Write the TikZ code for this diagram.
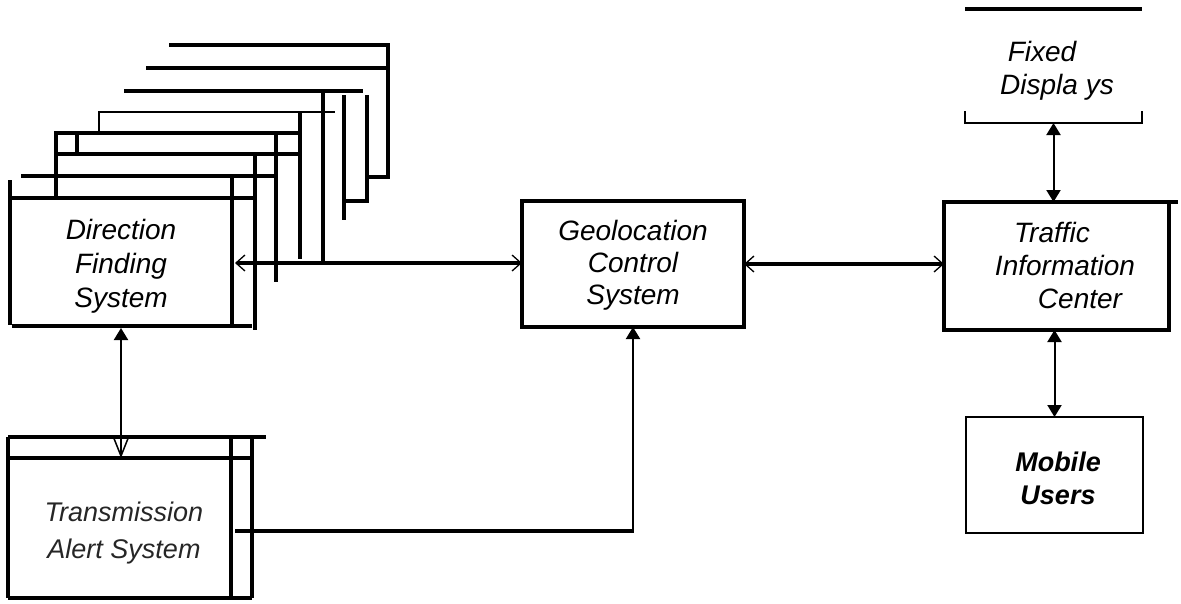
\documentclass[tikz,border=0pt]{standalone}
\usepackage{fontspec}
\setmainfont{Liberation Sans}
\usetikzlibrary{arrows.meta,calc}
\begin{document}
\begin{tikzpicture}[x=1pt,y=-1pt,
  thickln/.style={line width=3.2pt},
  midln/.style={line width=2pt},
  boxnode/.style={rectangle, inner sep=0pt, outer sep=0pt},
  lbl/.style={align=center, inner sep=0pt, font=\fontsize{28}{33}\selectfont\itshape},
  ftip/.tip={Triangle[length=12pt,width=14pt]},
  otip/.tip={Straight Barb[length=9pt,width=16pt,line width=1.3pt]},
  vtip/.tip={Straight Barb[length=20pt,width=16pt,line width=1.5pt]}]
\useasboundingbox (0,0) rectangle (1181,603);

% ---------- stacked Direction Finding boxes (behind) ----------
\draw[thickln] (169,45) -- (388,45) -- (388,177) -- (367,177);
\draw[thickln] (146,68) -- (388,68);
\draw[thickln] (124,91) -- (363,91);
\draw[thickln] (367,95) -- (367,201) -- (345,201);
\draw[thickln] (344,95) -- (344,220);
\draw[thickln] (323,91) -- (323,263);
\draw[midln] (99,132) -- (99,112) -- (335,112);
\draw[thickln] (300,112) -- (300,259);
\draw[thickln] (56,197) -- (56,133) -- (298,133);
\draw[thickln] (77,133) -- (77,153);
\draw[thickln] (276,133) -- (276,282);
\draw[thickln] (56,154) -- (298,154);
\draw[thickln] (255,154) -- (255,330);
\draw[thickln] (21,176) -- (276,176);

% ---------- front Direction Finding box ----------
\node[boxnode, minimum width=222pt, minimum height=128pt] (dfs) at (121,262) {};
\draw[thickln] (10,180) -- (10,325);
\draw[thickln] (10,198) -- (255,198);
\draw[thickln] (12,326) -- (252,326);
\draw[thickln] (232,178) -- (232,325);
\node[lbl, font=\fontsize{28}{34}\selectfont\itshape] (dfstext) at (121,266) {Direction\\Finding\\System};

% ---------- Transmission Alert System ----------
\node[boxnode, minimum width=223pt, minimum height=140pt] (tas) at (119.5,528) {};
\draw[thickln] (8,437) -- (266,437);
\draw[thickln] (8,458) -- (252,458);
\draw[thickln] (8,437) -- (8,598);
\draw[thickln] (231,437) -- (231,598);
\draw[thickln] (252,437) -- (252,598);
\draw[thickln] (8,598) -- (252,598);
\node[lbl, font=\fontsize{27}{37}\selectfont\itshape, text=black!85] (tastext) at (124,533) {Transmission\\Alert System};

% ---------- Geolocation Control System ----------
\node[boxnode, draw, thickln, minimum width=222pt, minimum height=126pt] (gcs) at (633,264) {};
\node[lbl, font=\fontsize{28}{32}\selectfont\itshape] (gcstext) at (633,265) {Geolocation\\Control\\System};

% ---------- Traffic Information Center ----------
\node[boxnode, draw, thickln, minimum width=225pt, minimum height=128pt] (tic) at (1056.5,266) {};
\draw[thickln] (tic.north east) -- ++(9,0);
\node[lbl, font=\fontsize{28}{33}\selectfont\itshape] (tictext) at (1065,265) {Traffic\hspace*{26pt}\\Information\\\hspace*{30pt}Center};

% ---------- Fixed Displays ----------
\node[boxnode, minimum width=177pt, minimum height=114pt] (fix) at (1053.5,66) {};
\draw[thickln] (fix.north west) -- (fix.north east);
\draw[midln] ($(fix.south west)+(0,-12)$) -- (fix.south west) -- (fix.south east) -- ++(0,-12);
\node[lbl] (fixtext) at (1057,71) {Fixed\hspace*{30pt}\\Displa ys};

% ---------- Mobile Users ----------
\node[boxnode, draw, midln, minimum width=177pt, minimum height=116pt] (mob) at (1054.5,475) {};
\node[lbl, font=\fontsize{27}{33}\selectfont\bfseries\itshape] (mobtext) at (1058,478) {Mobile\\Users};

% ---------- connectors ----------
\coordinate (dfsout) at ($(dfs.east)+(3,1)$);
\coordinate (tasout) at ($(tas.east)+(4,3)$);
\draw[thickln, {otip}-{otip}] (dfsout) -- (dfsout -| gcs.west);
\draw[thickln, {otip}-{otip}] (gcs.east) -- (gcs.east -| tic.west);
\draw[midln, {ftip}-{vtip}] ($(dfs.south)+(0,2)$) -- (dfs.south |- tas.north);
\draw[thickln] (tasout) -- (tasout -| gcs.south) coordinate (bend);
\draw[midln, -{ftip}] ($(bend)+(0,1.5)$) -- (gcs.south);
\draw[midln, {ftip}-{ftip}] (fix.south) -- (fix.south |- tic.north);
\draw[midln, {ftip}-{ftip}] (mob.north |- tic.south) -- (mob.north);
\end{tikzpicture}
\end{document}
